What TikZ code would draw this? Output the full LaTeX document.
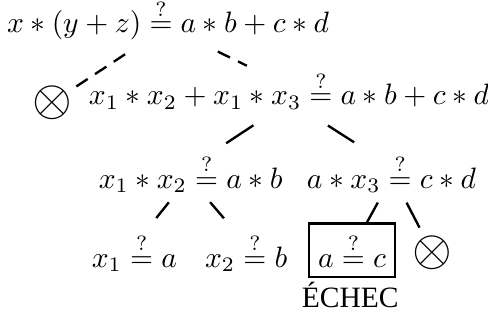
\documentclass[tikz,border=0pt]{standalone}
\usepackage{amsmath}
\usepackage{fontspec}
\newfontfamily\echecfont{Liberation Serif}
\usepackage{tikz}
\usetikzlibrary{positioning}
\newcommand{\unif}{\stackrel{?}{=}}

\begin{document}
\begin{tikzpicture}[
    expr/.style={anchor=base,inner sep=1pt},
    fail/.style={circle,inner sep=0pt,minimum size=0.66cm,font=\LARGE},
    stuck/.style={draw,line width=0.8pt,minimum width=1.03cm,minimum height=0.64cm,inner sep=2pt},
    link/.style={line width=0.8pt},
    guess/.style={line width=0.8pt,dash pattern=on 4.6pt off 3pt},
  ]
    \useasboundingbox (0,0) rectangle (5.81,-3.93);

    \node[expr] (root) at (2.00,-0.39) {$x*(y+z)\unif a*b+c*d$};
    \node[fail] (fail1) at (0.62,-1.22) {$\otimes$};
    \node[expr] (n1) at (3.44,-1.25) {$x_1*x_2+x_1*x_3\unif a*b+c*d$};

    \node[expr] (n2) at (2.27,-2.24) {$x_1*x_2\unif a*b$};
    \node[expr] (n3) at (4.66,-2.24) {$a*x_3\unif c*d$};

    \node[expr] (leaf1) at (1.60,-3.18) {$x_1\unif a$};
    \node[expr] (leaf2) at (2.93,-3.18) {$x_2\unif b$};
    \node[stuck] (clash) at (4.19,-2.98) {$a\unif c$};
    \node[fail] (fail2) at (5.15,-3.01) {$\otimes$};
    \node[expr] (echec) at (4.17,-3.66) {\echecfont ÉCHEC};

    % dashed: first step
    \draw[guess,shorten <=6.5pt] ([xshift=-0.32cm]root.south) -- (fail1);
    \draw[guess,shorten <=6.1pt,shorten >=1.3pt]
      ([xshift=0.40cm]root.south) -- ([xshift=-0.46cm]n1.north);

    \draw[link,shorten <=7.6pt,shorten >=4.5pt]
      ([xshift=-0.20cm]n1.south) -- ([xshift=0.29cm]n2.north);
    \draw[link,shorten <=7.9pt,shorten >=5.2pt]
      ([xshift=0.23cm]n1.south) -- ([xshift=-0.29cm]n3.north);

    \draw[link,shorten <=2.7pt,shorten >=5pt]
      ([xshift=-0.20cm]n2.south) -- ([xshift=0.15cm]leaf1.north);
    \draw[link,shorten <=2.7pt,shorten >=5pt]
      ([xshift=0.17cm]n2.south) -- ([xshift=-0.15cm]leaf2.north);

    \draw[link,shorten <=2.5pt]
      ([xshift=-0.12cm]n3.south) -- ([xshift=0.18cm]clash.north);
    \draw[link,shorten <=2.5pt] ([xshift=0.14cm]n3.south) -- (fail2);
  \end{tikzpicture}
\end{document}
